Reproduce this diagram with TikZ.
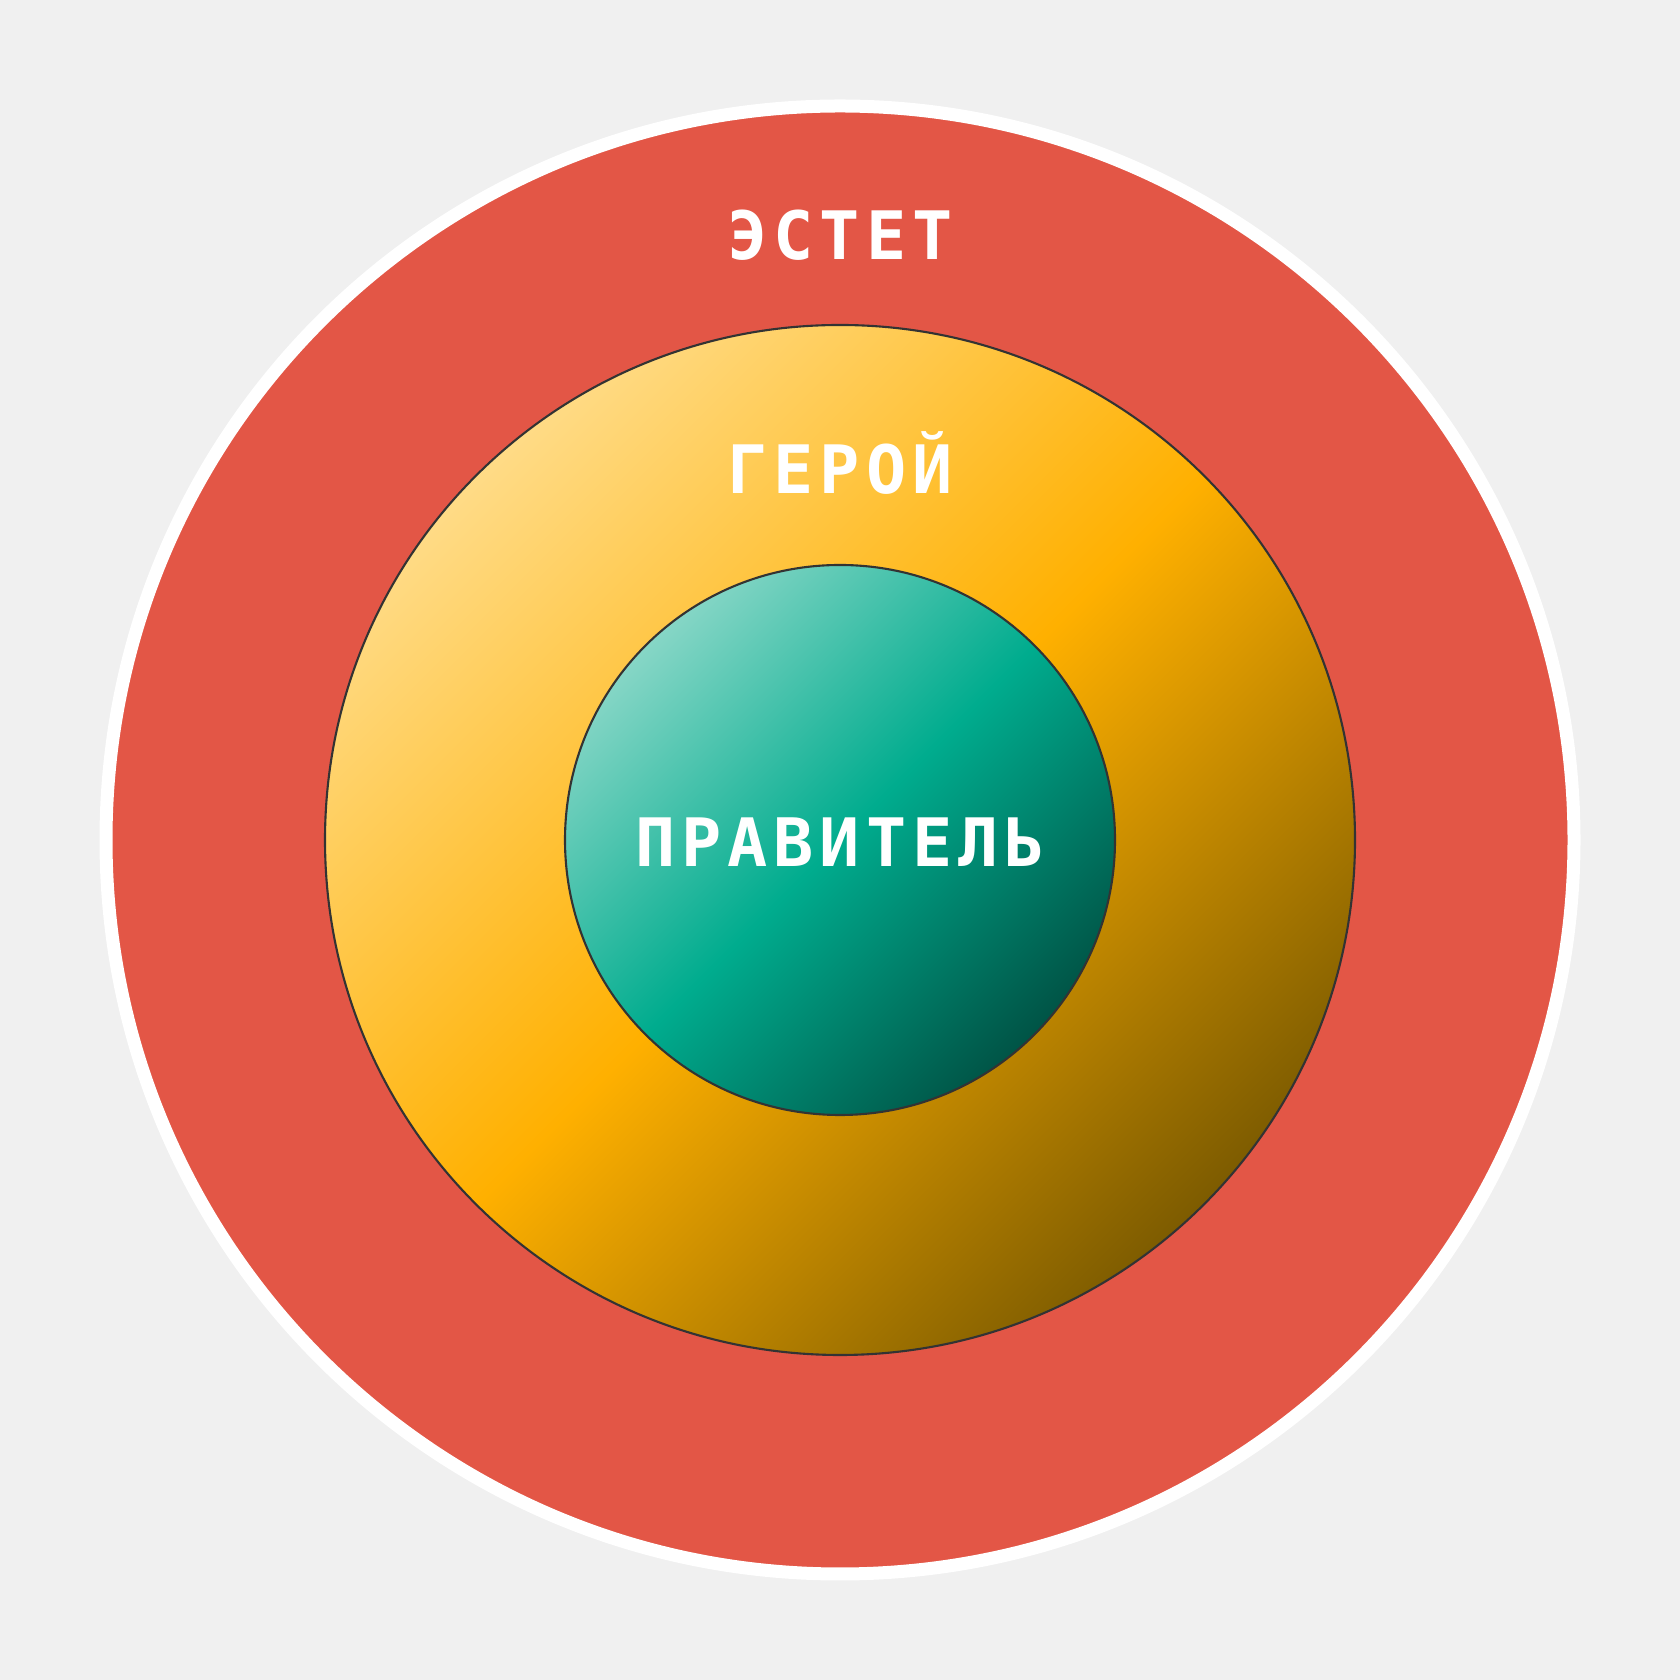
\documentclass[tikz,border=0pt]{standalone}
\usepackage{fontspec}
\newfontfamily\labelfont[LetterSpace=9]{DejaVu Sans Mono Bold}
\definecolor{bgcol}{HTML}{F0F0F0}
\definecolor{redcol}{HTML}{E35646}
\definecolor{herolight}{HTML}{FFDB86}
\definecolor{heromid}{HTML}{FFB000}
\definecolor{herodark}{HTML}{7E5C00}
\definecolor{rulerlight}{HTML}{86D6C6}
\definecolor{rulermid}{HTML}{00AC8E}
\definecolor{rulerdark}{HTML}{005446}
\pgfdeclarehorizontalshading{heroshade}{100bp}{color(0bp)=(herolight); color(25bp)=(herolight); color(50bp)=(heromid); color(75bp)=(herodark); color(100bp)=(herodark)}
\pgfdeclarehorizontalshading{rulershade}{100bp}{color(0bp)=(rulerlight); color(25bp)=(rulerlight); color(50bp)=(rulermid); color(75bp)=(rulerdark); color(100bp)=(rulerdark)}
\tikzset{
  ring/.style={circle, inner sep=0pt, outer sep=0pt},
  lbl/.style={text=white, anchor=base, inner sep=0pt, font=\labelfont\fontsize{19}{23}\selectfont}
}
\begin{document}
\begin{tikzpicture}
\fill[bgcol] (0,0) rectangle (16.8,16.8);
\useasboundingbox (0,0) rectangle (16.8,16.8);
\node[ring, fill=redcol, draw=white, line width=0.13cm, minimum size=14.68cm] (esthete) at (8.4,8.4) {};
\node[ring, shading=heroshade, shading angle=-45, draw=black!80, line width=0.6pt, minimum size=10.3cm] (hero) at (8.4,8.4) {};
\node[ring, shading=rulershade, shading angle=-45, draw=black!80, line width=0.6pt, minimum size=5.5cm] (ruler) at (8.4,8.4) {};
\node[lbl] (t1) at (8.4,14.2) {ЭСТЕТ};
\node[lbl] (t2) at (8.4,11.86) {ГЕРОЙ};
\node[lbl] (t3) at (8.4,8.13) {ПРАВИТЕЛЬ};
\end{tikzpicture}
\end{document}
